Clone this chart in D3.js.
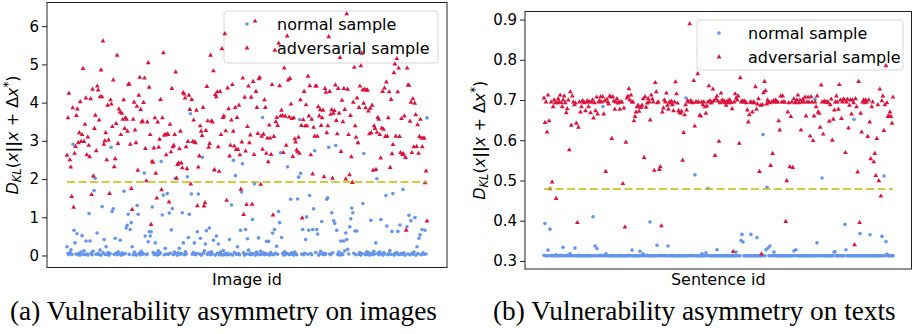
<!doctype html>
<html lang="en">
<head>
  <meta charset="utf-8">
  <title>Vulnerability asymmetry</title>
  <script src="https://cdn.jsdelivr.net/npm/d3@7"></script>
  <style>
    body { margin: 0; background: #fff; }
    svg { display: block; }
    .tick text { font-family: "DejaVu Sans", sans-serif; font-size: 15px; fill: #000; }
  </style>
</head>
<body>
<svg id="chart" width="913" height="334"></svg>
<script>
// ---- data ----
const seriesNames = ["normal sample", "adversarial sample"];

// (a) images: D_KL per image id
const imgNormal = [
  0.23,0.05,0.02,0.08,0.15,0.03,2.91,0.66,0.33,0.04,0.57,0.02,0.06,0.01,0.09,0.52,0.03,0.12,0.02,0.38,
  0.04,0.01,1.10,0.38,0.06,0.02,0.11,1.70,2.02,0.03,0.59,0.05,0.02,0.14,0.01,1.28,0.07,0.42,0.03,0.23,
  0.02,0.08,0.01,0.05,2.83,1.15,1.22,0.03,0.45,0.06,0.02,0.10,0.04,0.40,0.01,0.07,0.03,1.68,0.05,0.72,
  0.79,1.08,0.03,0.68,0.86,0.23,0.02,0.09,0.04,0.01,1.31,1.08,0.06,0.02,0.11,0.03,0.05,2.16,0.51,0.02,
  0.04,0.36,0.62,0.51,0.62,1.27,0.08,0.02,0.33,0.05,0.01,0.12,0.03,0.07,2.46,1.06,1.58,0.02,0.19,0.04,
  1.62,0.03,1.11,0.06,0.67,1.23,0.02,0.09,2.02,0.04,0.01,0.07,0.19,0.03,0.05,1.12,0.33,0.02,0.10,0.04,
  2.06,0.47,1.08,3.71,1.61,0.03,0.08,0.33,0.02,0.05,0.62,1.61,0.04,0.45,0.01,2.57,0.06,0.12,0.30,0.65,
  0.03,0.07,0.72,0.02,0.10,0.04,0.40,2.23,0.01,0.51,0.06,0.30,0.02,0.09,0.04,0.01,0.13,0.03,0.05,0.02,
  0.06,0.02,0.42,0.04,1.32,0.01,2.49,0.08,2.09,0.03,0.23,0.05,0.02,0.66,1.66,2.40,0.07,0.01,0.68,0.04,
  0.44,0.14,0.03,0.06,0.02,0.94,0.05,1.88,0.01,0.09,0.04,0.46,0.02,0.11,0.03,3.61,0.07,0.02,0.05,0.37,
  0.03,0.37,0.01,0.08,0.04,0.59,0.02,0.68,0.06,0.24,0.03,1.15,0.86,2.69,0.47,0.05,0.01,0.10,0.03,0.06,
  2.32,0.04,0.02,1.47,0.07,0.03,0.01,0.09,0.05,0.02,1.48,2.05,3.56,2.15,0.04,0.68,0.02,0.06,0.42,1.01,
  0.03,0.66,1.57,0.05,0.02,0.68,1.22,2.74,0.08,0.68,0.56,0.01,0.04,0.11,0.89,0.03,0.06,0.02,0.05,1.47,
  1.51,2.83,0.04,0.02,1.12,0.07,0.91,0.84,2.88,0.66,0.03,0.09,0.01,0.38,0.05,0.02,0.38,0.12,0.59,0.42,
  0.16,0.04,0.75,0.96,1.24,1.12,0.06,0.64,0.02,0.64,2.95,0.03,0.08,0.01,0.05,1.36,2.67,0.04,0.02,0.10,
  0.03,0.07,0.01,0.92,0.05,0.02,0.11,0.04,0.33,2.01,0.06,0.02,0.09,0.94,0.03,0.01,0.07,0.04,1.57,0.77,
  0.02,0.05,0.13,0.03,0.63,1.62,0.01,0.06,0.04,0.08,0.63,0.02,0.80,0.05,0.03,1.73,0.07,0.01,2.55,0.75,
  0.04,1.05,0.02,0.91,0.06,0.03,0.09,0.99,0.01,0.23,0.05,0.45,0.54,0.02,0.68,0.07,0.03,0.66,0.04,3.60
];
const imgAdv = [
  2.62,3.60,4.24,2.50,2.31,1.54,3.86,1.26,2.67,2.85,3.66,3.83,2.95,3.21,4.02,2.98,3.16,4.89,2.98,3.43,
  4.12,2.63,3.10,2.88,2.58,4.10,1.59,4.35,2.08,3.32,3.67,2.74,4.43,4.33,3.54,4.15,4.85,4.15,5.61,2.91,
  3.00,3.21,2.50,3.93,3.02,1.62,4.07,3.96,3.37,4.59,2.32,2.53,3.45,5.24,2.93,3.83,3.75,3.16,3.72,3.56,
  4.07,3.32,3.60,3.56,3.25,4.48,4.48,2.91,1.75,1.20,3.56,4.01,3.28,2.95,3.90,2.23,4.19,4.66,3.82,3.49,
  3.51,4.00,4.64,2.80,1.95,3.49,5.04,4.40,3.16,0.81,2.46,2.44,2.81,3.60,2.15,1.50,3.49,2.83,3.04,4.08,
  1.72,3.60,5.30,3.15,3.15,2.63,3.18,3.16,1.40,3.43,2.71,4.37,2.84,2.88,3.16,4.80,2.02,2.38,2.42,2.79,
  3.25,2.42,2.29,4.26,4.22,4.12,2.84,2.27,2.98,4.19,3.82,1.87,4.08,2.98,3.54,2.97,2.95,3.80,1.30,2.31,
  2.60,3.39,3.25,3.14,3.87,1.29,1.38,3.27,4.42,3.52,2.83,2.93,5.24,3.52,3.49,4.83,2.24,4.21,4.15,4.28,
  2.84,2.20,4.29,3.16,5.41,3.61,3.65,5.80,3.26,1.44,4.38,3.84,2.60,2.88,3.54,4.47,3.25,2.86,3.87,2.77,
  3.61,2.77,3.93,2.63,1.73,2.97,4.64,1.07,4.14,2.73,1.33,3.37,4.43,2.95,
  3.15,4.14,1.34,4.55,2.64,6.13,4.29,3.87,3.19,4.62,4.66,1.86,3.12,2.78,3.17,4.07,3.87,2.67,3.07,2.45,
  3.41,3.07,2.64,4.47,1.06,3.11,5.37,3.50,3.61,3.40,5.55,4.44,3.65,3.80,3.66,2.69,4.90,3.64,2.88,5.74,
  4.59,3.62,4.63,3.96,3.58,2.59,3.60,3.05,2.97,2.76,2.71,3.09,2.67,4.07,3.40,0.98,3.55,4.29,3.39,3.94,
  3.39,4.69,3.65,4.44,2.63,3.56,2.13,3.35,3.12,4.43,4.43,3.12,3.89,3.65,3.81,3.40,3.60,3.80,2.06,4.37,
  4.27,3.21,3.39,5.72,4.29,3.69,3.81,2.02,3.72,3.79,4.46,3.53,3.18,4.37,3.72,5.18,2.72,4.06,3.50,4.37,
  3.82,2.00,6.32,4.35,3.16,2.11,3.66,2.58,1.91,4.01,4.92,3.39,3.09,4.12,2.95,3.87,4.43,4.96,5.29,4.33,
  3.98,4.35,3.86,4.32,4.33,3.78,3.18,3.85,3.21,3.93,2.23,3.39,3.32,2.25,3.22,3.61,3.56,3.16,2.55,3.33,
  4.29,3.30,4.38,3.11,4.54,3.12,3.60,4.28,2.30,4.08,2.66,2.90,4.78,5.01,3.12,5.15,4.28,4.90,3.11,2.69,
  3.58,2.64,2.66,3.65,2.57,0.66,4.90,4.46,4.45,3.51,4.01,2.69,4.10,2.84,3.98,3.68,2.85,3.42,2.67,3.11,
  3.56,3.07,2.84,3.07,3.07,1.90,2.21,0.90
];
const imgThreshold = 1.92;
const imgTicks = [0, 1, 2, 3, 4, 5, 6];

// (b) texts: D_KL per sentence id
const txtNormal = [
  0.314,0.393,0.313,0.313,0.327,0.313,0.379,0.313,0.314,0.313,0.313,0.313,0.315,0.313,0.313,0.313,0.313,0.314,0.313,0.334,
  0.313,0.313,0.313,0.314,0.313,0.313,0.318,0.313,0.313,0.313,0.313,0.332,0.313,0.313,0.313,0.314,0.313,0.313,0.313,0.313,
  0.313,0.313,0.313,0.313,0.314,0.313,0.313,0.313,0.313,0.410,0.313,0.337,0.313,0.331,0.313,0.313,0.314,0.313,0.313,0.684,
  0.313,0.313,0.318,0.313,0.313,0.313,0.313,0.314,0.313,0.313,0.313,0.313,0.313,0.313,0.313,0.313,0.313,0.314,0.313,0.313,
  0.313,0.313,0.313,0.313,0.313,0.314,0.313,0.313,0.327,0.313,0.313,0.313,0.313,0.313,0.313,0.313,0.324,0.313,0.313,0.318,
  0.313,0.313,0.313,0.314,0.313,0.313,0.397,0.313,0.313,0.313,0.313,0.313,0.313,0.339,0.313,0.313,0.313,0.314,0.313,0.313,
  0.313,0.313,0.313,0.313,0.337,0.313,0.313,0.313,0.314,0.313,0.313,0.313,0.313,0.313,0.313,0.313,0.313,0.313,0.313,0.313,
  0.313,0.313,0.705,0.313,0.313,0.313,0.313,0.314,0.313,0.313,0.313,0.514,0.313,0.313,0.313,0.313,0.313,0.313,0.318,0.313,
  0.313,0.313,0.320,0.313,0.480,0.313,0.313,0.313,0.313,0.313,0.313,0.313,0.313,0.328,0.313,0.313,0.313,0.313,0.313,0.313,
  0.313,0.313,0.314,0.313,0.313,0.313,0.313,0.313,0.313,0.313,0.313,0.313,0.322,0.313,0.313,0.313,0.313,0.351,0.366,0.347,
  0.313,0.313,0.313,0.313,0.313,0.313,0.313,0.366,0.313,0.313,0.313,0.313,0.313,0.358,0.313,0.313,0.313,0.313,0.313,0.614,
  0.313,0.313,0.328,0.483,0.332,0.313,0.337,0.313,0.313,0.313,0.322,0.313,0.313,0.313,0.313,0.313,0.313,0.313,0.313,0.313,
  0.313,0.313,0.313,0.313,0.313,0.313,0.313,0.313,0.313,0.313,0.325,0.313,0.328,0.313,0.313,0.313,0.313,0.313,0.313,0.313,
  0.313,0.313,0.313,0.313,0.313,0.313,0.313,0.313,0.313,0.313,0.313,0.702,0.313,0.345,0.313,0.313,0.313,0.313,0.506,0.313,
  0.313,0.313,0.313,0.313,0.313,0.313,0.313,0.313,0.313,0.313,0.322,0.323,0.313,0.313,0.313,0.313,0.313,0.313,0.313,0.313,
  0.313,0.391,0.328,0.313,0.313,0.313,0.313,0.313,0.313,0.313,0.652,0.313,0.313,0.313,0.313,0.313,0.368,0.313,0.313,0.313,
  0.313,0.313,0.313,0.313,0.313,0.313,0.365,0.313,0.313,0.313,0.313,0.313,0.313,0.313,0.313,0.313,0.313,0.313,0.361,0.313,
  0.511,0.313,0.348,0.317,0.313,0.313,0.313,0.313,0.313,0.313
];
const txtAdv = [
  0.705,0.644,0.695,0.620,0.712,0.648,0.479,0.695,0.496,0.683,0.700,0.693,0.455,0.693,0.703,0.695,0.712,0.693,0.683,0.700,
  0.710,0.693,0.668,0.678,0.700,0.576,0.720,0.637,0.710,0.695,0.688,0.692,0.642,0.395,0.632,0.695,0.670,0.683,0.698,0.695,
  0.693,0.673,0.695,0.698,0.683,0.695,0.668,0.695,0.700,0.655,0.693,0.673,0.707,0.665,0.695,0.698,0.708,0.695,0.708,0.665,
  0.698,0.522,0.702,0.695,0.690,0.710,0.707,0.604,0.708,0.697,0.677,0.695,0.703,0.692,0.695,0.677,0.695,0.695,0.492,0.680,
  0.384,0.595,0.705,0.709,0.728,0.700,0.712,0.695,0.695,0.648,0.659,0.670,0.683,0.687,0.672,0.682,0.682,0.687,0.703,0.557,
  0.708,0.682,0.692,0.703,0.695,0.650,0.712,0.702,0.695,0.525,0.743,0.720,0.693,0.695,0.527,0.534,0.387,0.670,0.680,0.700,
  0.695,0.717,0.687,0.677,0.695,0.692,0.697,0.688,0.673,0.695,0.745,0.715,0.692,0.673,0.670,0.667,0.672,0.550,0.619,0.663,
  0.688,0.675,0.698,0.695,0.889,0.698,0.695,0.693,0.748,0.635,0.695,0.695,0.765,0.695,0.662,0.660,0.695,0.688,0.695,0.683,
  0.667,0.685,0.695,0.735,0.698,0.692,0.695,0.727,0.698,0.562,0.703,
  0.710,0.697,0.597,0.693,0.717,0.700,0.695,0.698,0.693,0.687,0.697,0.693,0.700,0.698,0.693,0.678,0.323,0.695,0.715,0.705,
  0.700,0.710,0.592,0.755,0.695,0.698,0.695,0.697,0.695,0.693,0.675,0.645,0.663,0.695,0.693,0.670,0.695,0.693,0.733,0.677,
  0.690,0.703,0.522,0.687,0.317,0.688,0.718,0.746,0.723,0.690,0.700,0.695,0.693,0.537,0.695,0.567,0.698,0.695,0.700,0.695,
  0.695,0.648,0.625,0.710,0.695,0.710,0.695,0.695,0.398,0.499,0.670,0.693,0.534,0.659,0.695,0.532,0.703,0.693,0.695,0.700,
  0.712,0.693,0.700,0.625,0.695,0.702,0.695,0.707,0.660,0.695,0.707,0.695,0.610,0.708,0.695,0.599,0.660,0.695,0.683,0.710,
  0.670,0.667,0.632,0.737,0.695,0.615,0.697,0.695,0.695,0.695,0.693,0.647,0.688,0.702,0.600,0.652,0.675,0.695,0.710,0.695,
  0.677,0.738,0.700,0.654,0.695,0.702,0.700,0.569,0.695,0.702,0.630,0.687,0.700,0.665,0.700,0.693,0.340,0.703,0.683,0.521,
  0.746,0.395,0.667,0.620,0.695,0.700,0.693,0.700,0.695,0.609,0.700,0.645,0.554,0.683,0.695,0.546,0.567,0.512,0.604,0.688,
  0.499,0.727,0.461,0.698,0.710,0.624,0.688,0.785,0.693,0.659,0.660,0.670,0.659,0.642,0.707
];
const txtThreshold = 0.479;
const txtTicks = [0.3, 0.4, 0.5, 0.6, 0.7, 0.8, 0.9];

const captions = ["(a) Vulnerability asymmetry on images", "(b) Vulnerability asymmetry on texts"];
const xLabels = ["Image id", "Sentence id"];

// ---- drawing ----
const svg = d3.select("#chart");
const BLUE = "#6495ED", RED = "#DC143C", OLIVE = "#bfbf00";
const triangle = d3.symbol().type(d3.symbolTriangle).size(10);

function panel(cfg) {
  const g = svg.append("g");
  const y = d3.scaleLinear().domain(cfg.ylim).range([cfg.box.bottom, cfg.box.top]);
  // both series run over the same id range
  const xN = d3.scaleLinear().domain([0, cfg.normal.length - 1]).range(cfg.xr);
  const xA = d3.scaleLinear().domain([0, cfg.adv.length - 1]).range(cfg.xr);

  // legend frame drawn first, points sit on top like in the picture
  const lg = g.append("g");
  lg.append("rect")
    .attr("x", cfg.legend.x).attr("y", cfg.legend.y)
    .attr("width", cfg.legend.w).attr("height", cfg.legend.h)
    .attr("rx", 3).attr("fill", "#fff").attr("fill-opacity", 0.8)
    .attr("stroke", "#d6d6d6").attr("stroke-width", 1);
  seriesNames.forEach((name, i) => {
    const cy = cfg.legend.y + 13 + i * 24;
    if (i === 0) lg.append("circle").attr("cx", cfg.legend.mx).attr("cy", cy).attr("r", 1.8).attr("fill", BLUE);
    else lg.append("path").attr("d", triangle).attr("transform", `translate(${cfg.legend.mx},${cy})`).attr("fill", RED);
    lg.append("text").attr("x", cfg.legend.tx).attr("y", cy + 5.5)
      .attr("font-family", "DejaVu Sans").attr("font-size", 16).text(name);
  });

  g.append("g").selectAll("circle").data(cfg.normal).enter().append("circle")
    .attr("cx", (d, i) => xN(i)).attr("cy", d => y(d)).attr("r", 1.8).attr("fill", BLUE);
  g.append("g").selectAll("path").data(cfg.adv).enter().append("path")
    .attr("d", triangle).attr("fill", RED)
    .attr("transform", (d, i) => `translate(${xA(i)},${y(d)})`);

  g.append("line")
    .attr("x1", cfg.xr[0]).attr("x2", cfg.xr[1])
    .attr("y1", y(cfg.threshold)).attr("y2", y(cfg.threshold))
    .attr("stroke", OLIVE).attr("stroke-width", 1.5).attr("stroke-dasharray", "8,3.5");

  g.append("rect")
    .attr("x", cfg.box.left).attr("y", cfg.box.top)
    .attr("width", cfg.box.right - cfg.box.left).attr("height", cfg.box.bottom - cfg.box.top)
    .attr("fill", "none").attr("stroke", "#222").attr("stroke-width", 1);

  const ax = g.append("g").attr("transform", `translate(${cfg.box.left},0)`)
    .call(d3.axisLeft(y).tickValues(cfg.ticks).tickFormat(cfg.fmt).tickSize(5).tickPadding(3));
  ax.select(".domain").remove();
  ax.selectAll(".tick line").attr("stroke", "#222");

  const midX = (cfg.box.left + cfg.box.right) / 2;
  g.append("text").attr("x", midX).attr("y", 285).attr("text-anchor", "middle")
    .attr("font-family", "DejaVu Sans").attr("font-size", 16).text(cfg.xlabel);

  // D_KL(x||x + Δx*)
  const yl = g.append("text")
    .attr("transform", `translate(${cfg.ylabX},${(cfg.box.top + cfg.box.bottom) / 2}) rotate(-90)`)
    .attr("text-anchor", "middle").attr("font-family", "DejaVu Sans").attr("font-size", 16);
  yl.append("tspan").attr("font-style", "italic").text("D");
  yl.append("tspan").attr("font-style", "italic").attr("font-size", 11.5).attr("dy", 3).text("KL");
  yl.append("tspan").attr("dy", -3).text("(");
  yl.append("tspan").attr("font-style", "italic").text("x");
  yl.append("tspan").attr("font-weight", "bold").text("||");
  yl.append("tspan").attr("font-style", "italic").text("x");
  yl.append("tspan").text(" + Δ");
  yl.append("tspan").attr("font-style", "italic").text("x");
  yl.append("tspan").attr("font-size", 11.5).attr("dy", -6).text("*");
  yl.append("tspan").attr("dy", 6).text(")");

  svg.append("text").attr("x", cfg.capX).attr("y", 320)
    .attr("font-family", "Liberation Serif, serif").attr("font-size", 27.3).text(cfg.caption);
}

panel({
  normal: imgNormal, adv: imgAdv, threshold: imgThreshold, ticks: imgTicks, fmt: d3.format("d"),
  ylim: [-0.314, 6.62], box: { left: 47, right: 447, top: 2.5, bottom: 267.5 }, xr: [67, 427],
  legend: { x: 224, y: 11, w: 214, h: 52, mx: 247, tx: 277 },
  xlabel: xLabels[0], ylabX: 18, caption: captions[0], capX: 10
});
panel({
  normal: txtNormal, adv: txtAdv, threshold: txtThreshold, ticks: txtTicks, fmt: d3.format(".1f"),
  ylim: [0.280, 0.920], box: { left: 525, right: 911.5, top: 11.5, bottom: 269 }, xr: [544, 893],
  legend: { x: 697, y: 20, w: 206, h: 50, mx: 719, tx: 748 },
  xlabel: xLabels[1], ylabX: 485, caption: captions[1], capX: 493
});
</script>
</body>
</html>
